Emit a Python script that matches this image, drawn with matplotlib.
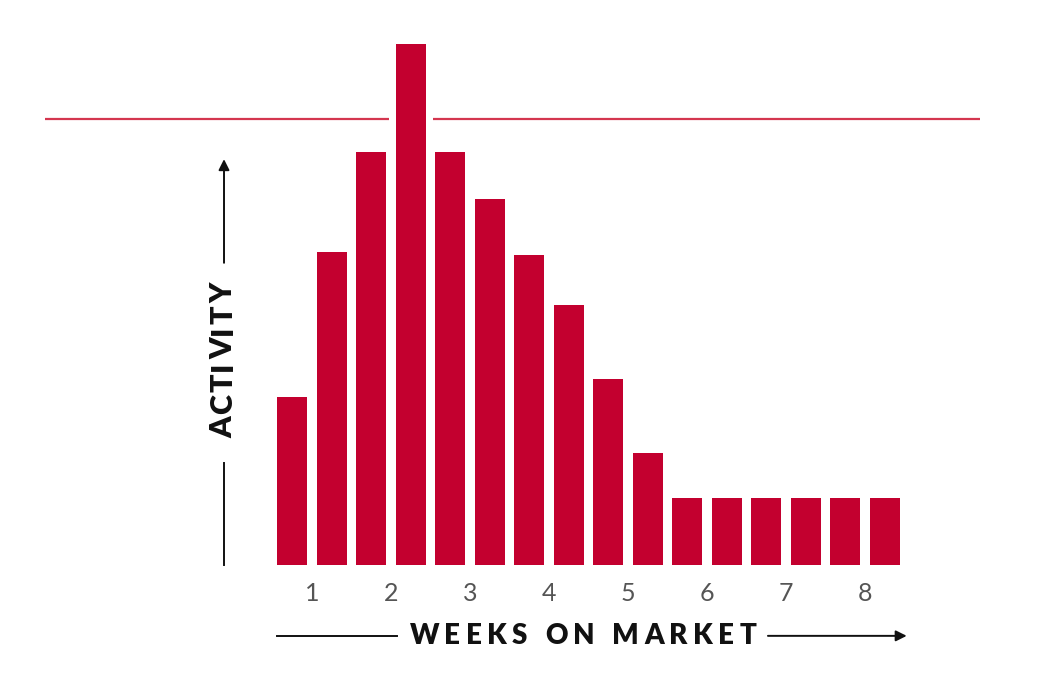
import numpy as np
import matplotlib
matplotlib.use("Agg")
import matplotlib.pyplot as plt

# Data: activity per half-week (two bars per week)
weeks = [1, 2, 3, 4, 5, 6, 7, 8]
activity = [32.2, 60.1, 79.3, 100.0, 79.3, 70.2, 59.5, 49.9,
            35.7, 21.5, 12.9, 12.9, 12.9, 12.9, 12.9, 12.9]
threshold = 85.6

bar_color = "#c3002f"
line_color = "#d4364f"
ink = "#111111"

PX_X = 39.53   # pixels per bar slot
PX_Y = 5.21    # pixels per activity unit

fig = plt.figure(figsize=(10.4, 6.83), dpi=100)
ax = fig.add_axes([0, (683 - 565) / 683, 1, 565 / 683])
ax.set_xlim(-292 / PX_X, (1040 - 292) / PX_X)
ax.set_ylim(0, 565 / PX_Y)
ax.axis("off")
renderer = fig.canvas.get_renderer()


def tracked_text(s, cx, cy, span_px, vertical=False, **kw):
    # draw a string letter by letter, spread to fill span_px
    widths = []
    for ch in s:
        if ch == " ":
            widths.append(None)
            continue
        t = ax.text(0, 0, ch, **kw)
        widths.append(t.get_window_extent(renderer).width)
        t.remove()
    avg = np.mean([w for w in widths if w is not None])
    widths = [avg * 0.35 if w is None else w for w in widths]
    gap = (span_px - sum(widths)) / (len(s) - 1)
    pos = -span_px / 2
    for ch, w in zip(s, widths):
        c = pos + w / 2
        if ch != " ":
            if vertical:
                ax.text(cx, cy + c / PX_Y, ch, rotation=90, ha="center",
                        va="center", clip_on=False, **kw)
            else:
                ax.text(cx + c / PX_X, cy, ch, ha="center", va="center",
                        clip_on=False, **kw)
        pos += w + gap


x = np.arange(len(activity))

# threshold line, broken around bars that cross it
ax.plot([-6.25, 17.4], [threshold, threshold], color=line_color, lw=1.6, zorder=1,
        solid_capstyle="butt")
ax.bar(x, activity, width=1.11, color="white", zorder=2)
ax.bar(x, activity, width=0.76, color=bar_color, zorder=3)

# week labels
for k in weeks:
    ax.text(2 * (k - 1) + 0.5, -5.5, str(k), ha="center", va="center",
            fontsize=18, color="#555555", family="Lato", fontweight="normal",
            clip_on=False)

# x axis title with arrow
tracked_text("WEEKS ON MARKET", 7.36, -13.7, 347, fontsize=20,
             fontweight="heavy", family="Lato", color=ink)
ax.plot([-0.38, 2.66], [-13.6, -13.6], color=ink, lw=1.4, clip_on=False)
ax.annotate("", xy=(15.55, -13.6), xytext=(12.04, -13.6),
            arrowprops=dict(arrowstyle="-|>", color=ink, lw=1.4,
                            mutation_scale=16, shrinkA=0, shrinkB=0),
            annotation_clip=False)

# y axis title with arrow
tracked_text("ACTIVITY", -1.74, 39.3, 156, vertical=True, fontsize=22,
             fontweight="heavy", family="Lato", color=ink)
ax.plot([-1.72, -1.72], [0, 19.6], color=ink, lw=1.4, clip_on=False)
ax.annotate("", xy=(-1.72, 77.9), xytext=(-1.72, 58.0),
            arrowprops=dict(arrowstyle="-|>", color=ink, lw=1.4,
                            mutation_scale=16, shrinkA=0, shrinkB=0),
            annotation_clip=False)

fig.savefig("out.png", dpi=100)
